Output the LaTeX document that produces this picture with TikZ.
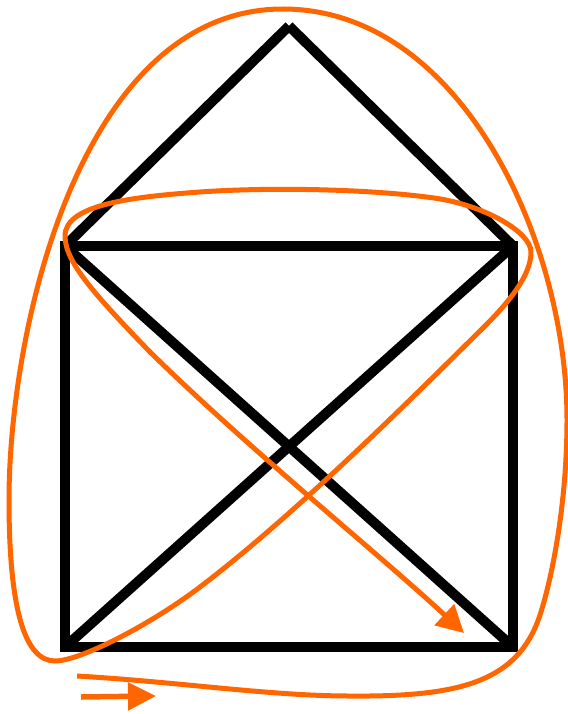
\documentclass[tikz,border=0pt]{standalone}
\usetikzlibrary{arrows.meta}
\definecolor{org}{RGB}{255,102,0}
\begin{document}
\begin{tikzpicture}[x=1pt,y=-1pt,
  house/.style={line width=10pt, line cap=butt},
  trace/.style={draw=org, line width=5pt, line cap=butt, line join=round},
  tip/.style={-{Triangle[length=27pt,width=28pt]}}]
\useasboundingbox (0,0) rectangle (567,714);
\coordinate (A) at (65,647);
\coordinate (B) at (513,647);
\coordinate (C) at (513,246);
\coordinate (D) at (65,246);
\coordinate (E) at (289,26);
\coordinate (s1) at (81,697);
\coordinate (s2) at (156,696);
% house
\draw[house, line join=miter] (A) -- (B) -- (C) -- (D) -- cycle;
\draw[house] (D) -- (B);
\draw[house] (A) -- (C);
\draw[house] (D) -- (E);
\draw[house] (C) -- (E);
% trace
\draw[trace, tip] (77,676)
  .. controls (180,682) and (270,696) .. (350,696)
  .. controls (460,697) and (518,682) .. (540,615)
  .. controls (553,575) and (567,500) .. (567,420)
  .. controls (567,240) and (460,9) .. (283,9)
  .. controls (80,9) and (9,330) .. (9,500)
  .. controls (9,610) and (25,661) .. (55,661)
  .. controls (80,661) and (150,625) .. (200,587)
  .. controls (300,511) and (420,390) .. (484,327)
  .. controls (510,301) and (531,275) .. (531,252)
  .. controls (531,232) and (484,205) .. (434,198)
  .. controls (370,189) and (270,187) .. (200,192)
  .. controls (130,197) and (65,205) .. (65,236)
  .. controls (65,262) and (95,295) .. (150,352)
  .. controls (250,450) and (380,555) .. (464,633);
% direction arrow
\draw[draw=org, line width=5.5pt, -{Triangle[length=28pt,width=27pt]}] (s1) -- (s2);
\end{tikzpicture}
\end{document}
